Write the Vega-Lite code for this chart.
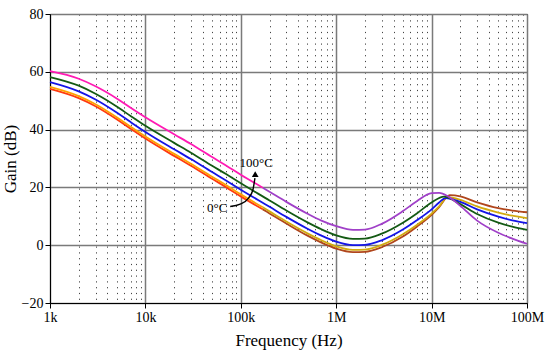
{
  "$schema": "https://vega.github.io/schema/vega-lite/v6.json",
  "width": 477,
  "height": 289,
  "autosize": {"type": "none"},
  "padding": {"left": 50, "top": 14, "right": 23, "bottom": 50},
  "background": "white",
  "config": {"view": {"stroke": "black", "strokeWidth": 1}, "font": "Liberation Serif"},
  "datasets": {
    "curves": [
      {"f": 1000, "g": 54.1, "c": "red"}, {"f": 2000, "g": 50.9, "c": "red"}, {"f": 3000, "g": 48.1, "c": "red"}, {"f": 5000, "g": 43.6, "c": "red"}, {"f": 7000, "g": 40.3, "c": "red"}, {"f": 10000, "g": 36.9, "c": "red"}, {"f": 20000, "g": 30.9, "c": "red"}, {"f": 30000, "g": 27.5, "c": "red"}, {"f": 50000, "g": 23.0, "c": "red"}, {"f": 70000, "g": 20.1, "c": "red"}, {"f": 100000, "g": 16.9, "c": "red"}, {"f": 170000, "g": 12.4, "c": "red"},
      {"f": 170000, "g": 12.4, "c": "brown"}, {"f": 200000, "g": 11.0, "c": "brown"}, {"f": 300000, "g": 7.5, "c": "brown"}, {"f": 500000, "g": 3.3, "c": "brown"}, {"f": 700000, "g": 0.9, "c": "brown"}, {"f": 1000000, "g": -1.2, "c": "brown"}, {"f": 1500000, "g": -2.4, "c": "brown"}, {"f": 2000000, "g": -2.3, "c": "brown"}, {"f": 3000000, "g": -0.7, "c": "brown"}, {"f": 5000000, "g": 3.0, "c": "brown"}, {"f": 7000000, "g": 6.4, "c": "brown"}, {"f": 10000000, "g": 10.5, "c": "brown"}, {"f": 12000000, "g": 13.2, "c": "brown"}, {"f": 15500000, "g": 17.3, "c": "brown"}, {"f": 20000000, "g": 16.9, "c": "brown"}, {"f": 30000000, "g": 14.8, "c": "brown"}, {"f": 50000000, "g": 12.8, "c": "brown"}, {"f": 70000000, "g": 12.0, "c": "brown"}, {"f": 100000000, "g": 11.4, "c": "brown"},
      {"f": 1000, "g": 54.8, "c": "orange"}, {"f": 2000, "g": 51.6, "c": "orange"}, {"f": 3000, "g": 48.8, "c": "orange"}, {"f": 5000, "g": 44.3, "c": "orange"}, {"f": 7000, "g": 41.0, "c": "orange"}, {"f": 10000, "g": 37.6, "c": "orange"}, {"f": 20000, "g": 31.6, "c": "orange"}, {"f": 30000, "g": 28.2, "c": "orange"}, {"f": 50000, "g": 23.7, "c": "orange"}, {"f": 70000, "g": 20.8, "c": "orange"}, {"f": 100000, "g": 17.6, "c": "orange"}, {"f": 170000, "g": 13.1, "c": "orange"},
      {"f": 170000, "g": 13.1, "c": "gold"}, {"f": 200000, "g": 11.7, "c": "gold"}, {"f": 300000, "g": 8.2, "c": "gold"}, {"f": 500000, "g": 4.1, "c": "gold"}, {"f": 700000, "g": 1.7, "c": "gold"}, {"f": 1000000, "g": -0.4, "c": "gold"}, {"f": 1500000, "g": -1.6, "c": "gold"}, {"f": 2000000, "g": -1.5, "c": "gold"}, {"f": 3000000, "g": 0.1, "c": "gold"}, {"f": 5000000, "g": 3.8, "c": "gold"}, {"f": 7000000, "g": 7.0, "c": "gold"}, {"f": 10000000, "g": 10.9, "c": "gold"}, {"f": 12000000, "g": 13.4, "c": "gold"}, {"f": 14500000, "g": 16.6, "c": "gold"}, {"f": 20000000, "g": 15.7, "c": "gold"}, {"f": 30000000, "g": 13.4, "c": "gold"}, {"f": 50000000, "g": 11.3, "c": "gold"}, {"f": 70000000, "g": 10.2, "c": "gold"}, {"f": 100000000, "g": 9.4, "c": "gold"},
      {"f": 1000, "g": 56.4, "c": "blue"}, {"f": 2000, "g": 53.2, "c": "blue"}, {"f": 3000, "g": 50.4, "c": "blue"}, {"f": 5000, "g": 45.9, "c": "blue"}, {"f": 7000, "g": 42.6, "c": "blue"}, {"f": 10000, "g": 39.2, "c": "blue"}, {"f": 20000, "g": 33.2, "c": "blue"}, {"f": 30000, "g": 29.8, "c": "blue"}, {"f": 50000, "g": 25.3, "c": "blue"}, {"f": 70000, "g": 22.4, "c": "blue"}, {"f": 100000, "g": 19.2, "c": "blue"}, {"f": 200000, "g": 13.3, "c": "blue"}, {"f": 300000, "g": 9.8, "c": "blue"}, {"f": 500000, "g": 5.7, "c": "blue"}, {"f": 700000, "g": 3.3, "c": "blue"}, {"f": 1000000, "g": 1.2, "c": "blue"}, {"f": 1500000, "g": 0.0, "c": "blue"}, {"f": 2000000, "g": 0.1, "c": "blue"}, {"f": 3000000, "g": 1.7, "c": "blue"}, {"f": 5000000, "g": 5.4, "c": "blue"}, {"f": 7000000, "g": 8.6, "c": "blue"}, {"f": 10000000, "g": 12.4, "c": "blue"}, {"f": 12000000, "g": 14.8, "c": "blue"}, {"f": 14000000, "g": 16.3, "c": "blue"}, {"f": 20000000, "g": 15.0, "c": "blue"}, {"f": 30000000, "g": 12.4, "c": "blue"}, {"f": 50000000, "g": 9.9, "c": "blue"}, {"f": 70000000, "g": 8.6, "c": "blue"}, {"f": 100000000, "g": 7.6, "c": "blue"},
      {"f": 1000, "g": 58.2, "c": "green"}, {"f": 2000, "g": 55.2, "c": "green"}, {"f": 3000, "g": 52.4, "c": "green"}, {"f": 5000, "g": 48.0, "c": "green"}, {"f": 7000, "g": 44.7, "c": "green"}, {"f": 10000, "g": 41.3, "c": "green"}, {"f": 20000, "g": 35.4, "c": "green"}, {"f": 30000, "g": 32.0, "c": "green"}, {"f": 50000, "g": 27.5, "c": "green"}, {"f": 70000, "g": 24.6, "c": "green"}, {"f": 100000, "g": 21.4, "c": "green"}, {"f": 200000, "g": 15.5, "c": "green"}, {"f": 300000, "g": 12.0, "c": "green"}, {"f": 500000, "g": 7.9, "c": "green"}, {"f": 700000, "g": 5.5, "c": "green"}, {"f": 1000000, "g": 3.4, "c": "green"}, {"f": 1500000, "g": 2.2, "c": "green"}, {"f": 2000000, "g": 2.3, "c": "green"}, {"f": 3000000, "g": 4.0, "c": "green"}, {"f": 5000000, "g": 7.8, "c": "green"}, {"f": 7000000, "g": 11.0, "c": "green"}, {"f": 10000000, "g": 14.8, "c": "green"}, {"f": 13500000, "g": 16.8, "c": "green"}, {"f": 20000000, "g": 14.2, "c": "green"}, {"f": 30000000, "g": 10.8, "c": "green"}, {"f": 50000000, "g": 7.8, "c": "green"}, {"f": 70000000, "g": 6.4, "c": "green"}, {"f": 100000000, "g": 5.3, "c": "green"},
      {"f": 1000, "g": 60.2, "c": "magenta"}, {"f": 2000, "g": 57.6, "c": "magenta"}, {"f": 3000, "g": 55.0, "c": "magenta"}, {"f": 5000, "g": 50.8, "c": "magenta"}, {"f": 7000, "g": 47.6, "c": "magenta"}, {"f": 10000, "g": 44.3, "c": "magenta"}, {"f": 20000, "g": 38.4, "c": "magenta"}, {"f": 30000, "g": 35.0, "c": "magenta"}, {"f": 50000, "g": 30.5, "c": "magenta"}, {"f": 70000, "g": 27.6, "c": "magenta"}, {"f": 100000, "g": 24.4, "c": "magenta"}, {"f": 170000, "g": 19.9, "c": "magenta"},
      {"f": 170000, "g": 19.9, "c": "purple"}, {"f": 200000, "g": 18.5, "c": "purple"}, {"f": 300000, "g": 15.0, "c": "purple"}, {"f": 500000, "g": 10.9, "c": "purple"}, {"f": 700000, "g": 8.5, "c": "purple"}, {"f": 1000000, "g": 6.6, "c": "purple"}, {"f": 1500000, "g": 5.3, "c": "purple"}, {"f": 2000000, "g": 5.4, "c": "purple"}, {"f": 3000000, "g": 7.4, "c": "purple"}, {"f": 5000000, "g": 11.8, "c": "purple"}, {"f": 7000000, "g": 15.2, "c": "purple"}, {"f": 10000000, "g": 18.0, "c": "purple"}, {"f": 12000000, "g": 18.1, "c": "purple"}, {"f": 15000000, "g": 16.8, "c": "purple"}, {"f": 20000000, "g": 13.6, "c": "purple"}, {"f": 30000000, "g": 8.5, "c": "purple"}, {"f": 50000000, "g": 4.3, "c": "purple"}, {"f": 70000000, "g": 2.3, "c": "purple"}, {"f": 100000000, "g": 0.5, "c": "purple"}
    ],
    "arrow": [
      {"f": 77400, "g": 13.4}, {"f": 98600, "g": 14.2}, {"f": 120500, "g": 16.3}, {"f": 134000, "g": 19.2}, {"f": 140600, "g": 23.2}
    ],
    "head": [{"f": 141600, "g": 24.6}],
    "labels": [
      {"f": 145000, "g": 28.5, "t": "100°C"},
      {"f": 56500, "g": 12.8, "t": "0°C"}
    ]
  },
  "layer": [
    {
      "data": {"name": "curves"},
      "mark": {"type": "line", "strokeWidth": 1.8, "interpolate": "monotone"},
      "encoding": {
        "x": {
          "field": "f", "type": "quantitative",
          "scale": {"type": "log", "domain": [1000, 100000000], "nice": false},
          "axis": {
            "values": [1000,2000,3000,4000,5000,6000,7000,8000,9000,10000,20000,30000,40000,50000,60000,70000,80000,90000,100000,200000,300000,400000,500000,600000,700000,800000,900000,1000000,2000000,3000000,4000000,5000000,6000000,7000000,8000000,9000000,10000000,20000000,30000000,40000000,50000000,60000000,70000000,80000000,90000000,100000000],
            "labelExpr": "datum.value==1e3?'1k':datum.value==1e4?'10k':datum.value==1e5?'100k':datum.value==1e6?'1M':datum.value==1e7?'10M':datum.value==1e8?'100M':''",
            "title": "Frequency (Hz)",
            "titleFont": "Liberation Serif", "titleFontSize": 17, "titleFontWeight": "normal", "titleColor": "black", "titlePadding": 8,
            "labelFont": "Liberation Serif", "labelFontSize": 14, "labelColor": "black", "labelPadding": 2, "labelOverlap": false, "labelFlush": false,
            "domainColor": "black",
            "tickColor": "black", "tickSize": 5,
            "tickOpacity": {"condition": {"test": "indexof([1000,10000,100000,1000000,10000000,100000000], datum.value) >= 0", "value": 1}, "value": 0},
            "grid": true,
            "gridColor": {"condition": {"test": "indexof([1000,10000,100000,1000000,10000000,100000000], datum.value) >= 0", "value": "#7a7a7a"}, "value": "#444444"},
            "gridDash": {"condition": {"test": "indexof([1000,10000,100000,1000000,10000000,100000000], datum.value) >= 0", "value": []}, "value": [1.2, 4.6]},
            "gridWidth": {"condition": {"test": "indexof([1000,10000,100000,1000000,10000000,100000000], datum.value) >= 0", "value": 1.5}, "value": 1}
          }
        },
        "y": {
          "field": "g", "type": "quantitative",
          "scale": {"domain": [-20, 80], "nice": false, "zero": false},
          "axis": {
            "values": [-20,-10,0,10,20,30,40,50,60,70,80],
            "labelExpr": "datum.value % 20 == 0 ? datum.label : ''",
            "title": "Gain (dB)",
            "titleFont": "Liberation Serif", "titleFontSize": 17, "titleFontWeight": "normal", "titleColor": "black", "titlePadding": 2,
            "labelFont": "Liberation Serif", "labelFontSize": 14, "labelColor": "black", "labelPadding": 2, "labelOverlap": false, "labelFlush": false,
            "domainColor": "black",
            "tickColor": "black", "tickSize": 5,
            "tickOpacity": {"condition": {"test": "datum.value % 20 == 0", "value": 1}, "value": 0},
            "grid": true,
            "gridColor": {"condition": {"test": "datum.value % 20 == 0", "value": "#7a7a7a"}, "value": "#444444"},
            "gridDash": {"condition": {"test": "datum.value % 20 == 0", "value": []}, "value": [1.2, 4.6]},
            "gridWidth": {"condition": {"test": "datum.value % 20 == 0", "value": 1.5}, "value": 1}
          }
        },
        "color": {
          "field": "c", "type": "nominal",
          "scale": {
            "domain": ["red", "brown", "orange", "gold", "blue", "green", "magenta", "purple"],
            "range": ["#ff3a10", "#b0461c", "#ffa000", "#d2aa10", "#1414e6", "#135a13", "#ff1ab4", "#a040c8"]
          },
          "legend": null
        }
      }
    },
    {
      "data": {"name": "arrow"},
      "mark": {"type": "line", "color": "black", "strokeWidth": 1.4, "interpolate": "monotone"},
      "encoding": {
        "x": {"field": "f", "type": "quantitative"},
        "y": {"field": "g", "type": "quantitative"}
      }
    },
    {
      "data": {"name": "head"},
      "mark": {"type": "point", "shape": "triangle-up", "filled": true, "color": "black", "size": 45, "opacity": 1},
      "encoding": {
        "x": {"field": "f", "type": "quantitative"},
        "y": {"field": "g", "type": "quantitative"}
      }
    },
    {
      "data": {"name": "labels"},
      "mark": {"type": "text", "font": "Liberation Serif", "fontSize": 13, "color": "black"},
      "encoding": {
        "x": {"field": "f", "type": "quantitative"},
        "y": {"field": "g", "type": "quantitative"},
        "text": {"field": "t"}
      }
    }
  ]
}
